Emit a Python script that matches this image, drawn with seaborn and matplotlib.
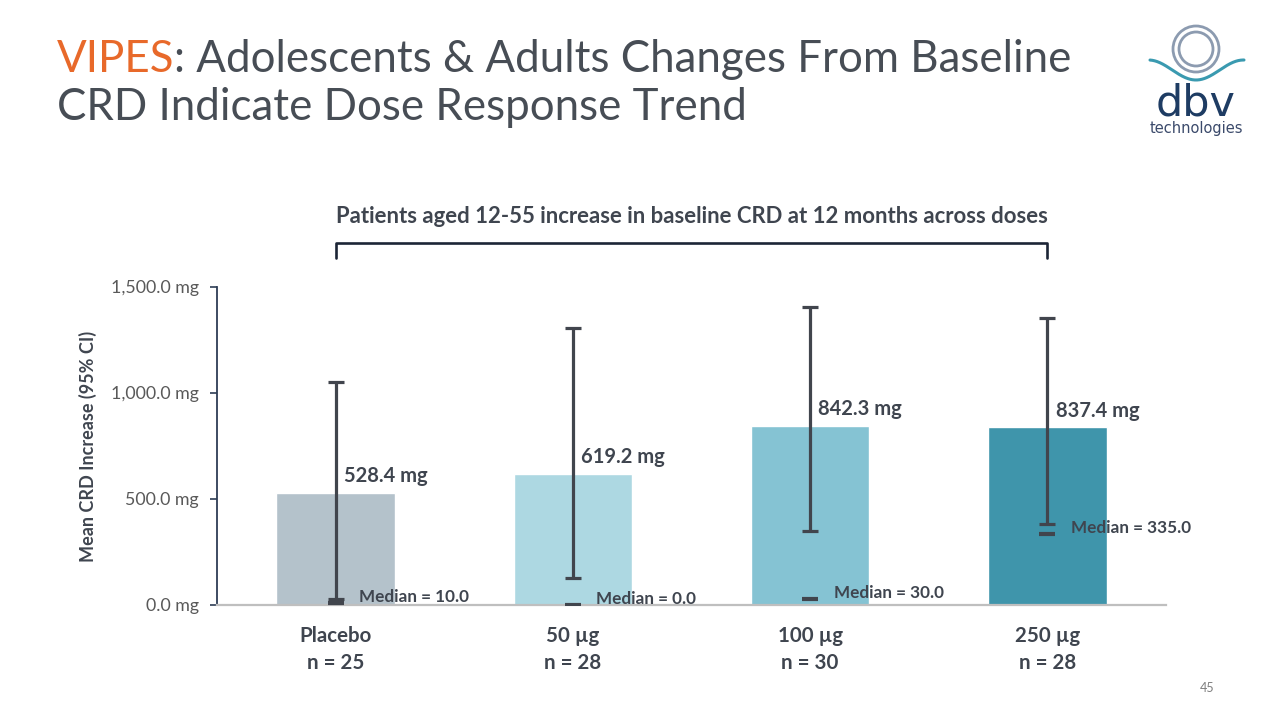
import numpy as np
import pandas as pd
import matplotlib
matplotlib.use("Agg")
import matplotlib.pyplot as plt
from matplotlib.patches import Circle
import seaborn as sns

# ---------------- data ----------------
categories = ["Placebo", "50 µg", "100 µg", "250 µg"]
n_labels = ["n = 25", "n = 28", "n = 30", "n = 28"]
means = [528.4, 619.2, 842.3, 837.4]
ci_low = [30.0, 127.0, 350.0, 382.0]
ci_high = [1052.0, 1305.0, 1405.0, 1353.0]
medians = [10.0, 0.0, 30.0, 335.0]
bar_colors = ["#B4C2CB", "#ADD8E2", "#85C3D3", "#3F95AB"]
yticks = [0, 500, 1000, 1500]

sns.set_theme(style="white")
plt.rcParams["font.family"] = ["Lato", "DejaVu Sans"]

TXT = "#3F454F"
GRAY = "#595959"

fig = plt.figure(figsize=(12.8, 7.2), dpi=100)
W, H = 1280, 720
ax = fig.add_axes([217 / W, 1 - 605 / H, (1166 - 217) / W, (605 - 287) / H])

df = pd.DataFrame({"cat": categories, "mean": means})
sns.barplot(data=df, x="cat", y="mean", hue="cat", palette=bar_colors,
            width=0.5, legend=False, ax=ax, saturation=1)

x = np.arange(len(categories))
means_a = np.array(means)
yerr = np.vstack([means_a - np.array(ci_low), np.array(ci_high) - means_a])
ax.errorbar(x, means_a, yerr=yerr, fmt="none", ecolor="#41454D",
            elinewidth=2.3, capsize=5.5, capthick=2.3, zorder=4)
ax.plot(x, medians, linestyle="none", marker="_", markersize=11,
        markeredgewidth=3, color="#41454D", zorder=5)

for i, (m, md) in enumerate(zip(means, medians)):
    ax.annotate(f"{m:.1f} mg", (x[i], m), xytext=(6, 5), textcoords="offset points",
                ha="left", va="bottom", fontsize=14.5, fontweight="bold", color=TXT)
    ax.annotate(f"Median = {md:.1f}", (x[i], md), xytext=(17, 4),
                textcoords="offset points", ha="left", va="center",
                fontsize=12.3, fontweight="bold", color=TXT, zorder=6)

ax.set_xlim(-0.5, 3.5)
ax.set_ylim(0, 1500)
ax.set_yticks(yticks)
ax.set_yticklabels([f"{v:,.1f} mg" for v in yticks], fontsize=12.8, color=GRAY)
ax.set_xticks(x)
ax.set_xticklabels([f"{c}\n{n}" for c, n in zip(categories, n_labels)],
                   fontsize=14.8, fontweight="bold", color=TXT, linespacing=1.45)
ax.tick_params(axis="y", left=True, length=5, width=1.2, color="#2E3D55", pad=8)
ax.tick_params(axis="x", bottom=False, pad=9)
ax.set_xlabel("")
ax.set_ylabel("Mean CRD Increase (95% CI)", fontsize=13, fontweight="bold",
              color=TXT, labelpad=10)
for s in ["top", "right"]:
    ax.spines[s].set_visible(False)
ax.spines["left"].set_color("#2E3D55")
ax.spines["left"].set_linewidth(1.3)
ax.spines["bottom"].set_color("#BFBFBF")
ax.spines["bottom"].set_linewidth(1.6)
ax.yaxis.grid(False)

# ---------------- title ----------------
TS = 31.6
fig.text(57 / W, 1 - 72 / H, "VIPES", fontsize=TS, color="#E8692A", va="baseline")
t1 = fig.text(57 / W, 1 - 72 / H, "VIPES", fontsize=TS, color="none", va="baseline")
fig.canvas.draw()
bb = t1.get_window_extent()
fig.text(bb.x1 / W, 1 - 72 / H, ": Adolescents & Adults Changes From Baseline",
         fontsize=TS, color="#474D55", va="baseline")
fig.text(57 / W, 1 - 120 / H, "CRD Indicate Dose Response Trend",
         fontsize=TS, color="#474D55", va="baseline")

# subtitle and bracket
fig.text(692 / W, 1 - 216 / H,
         "Patients aged 12-55 increase in baseline CRD at 12 months across doses",
         fontsize=15.9, fontweight="bold", color=TXT, ha="center", va="center")
bx = np.array([336, 336, 1047, 1047]) / W
by = 1 - np.array([258, 243, 243, 258]) / H
fig.add_artist(plt.Line2D(bx, by, color="#1C2536", lw=1.9))

fig.text(1207 / W, 1 - 688 / H, "45", fontsize=9, color="#7F7F7F",
         ha="center", va="center")

# ---------------- logo ----------------
lx = fig.add_axes([1140 / W, 1 - 140 / H, 130 / W, 120 / H])
lx.set_xlim(1140, 1270)
lx.set_ylim(140, 20)
lx.axis("off")
for r, lw in [(23, 2.0), (17, 2.0)]:
    lx.add_patch(Circle((1196, 49), r, fill=False, ec="#8C9BB0", lw=lw))
wx = np.linspace(1150, 1244, 200)
wy = 70 + 10 * np.cos(2 * np.pi * (wx - 1196) / 95)
lx.plot(wx, wy, color="#3A9AB0", lw=2.2)
lx.text(1196, 103, "dbv", fontsize=31, color="#1E3C63", ha="center",
        va="center", family=["DejaVu Sans"])
lx.text(1196, 129, "technologies", fontsize=10.5, color="#3B4A6B",
        ha="center", va="center", family=["DejaVu Sans"])

fig.savefig("out.png", dpi=100)
